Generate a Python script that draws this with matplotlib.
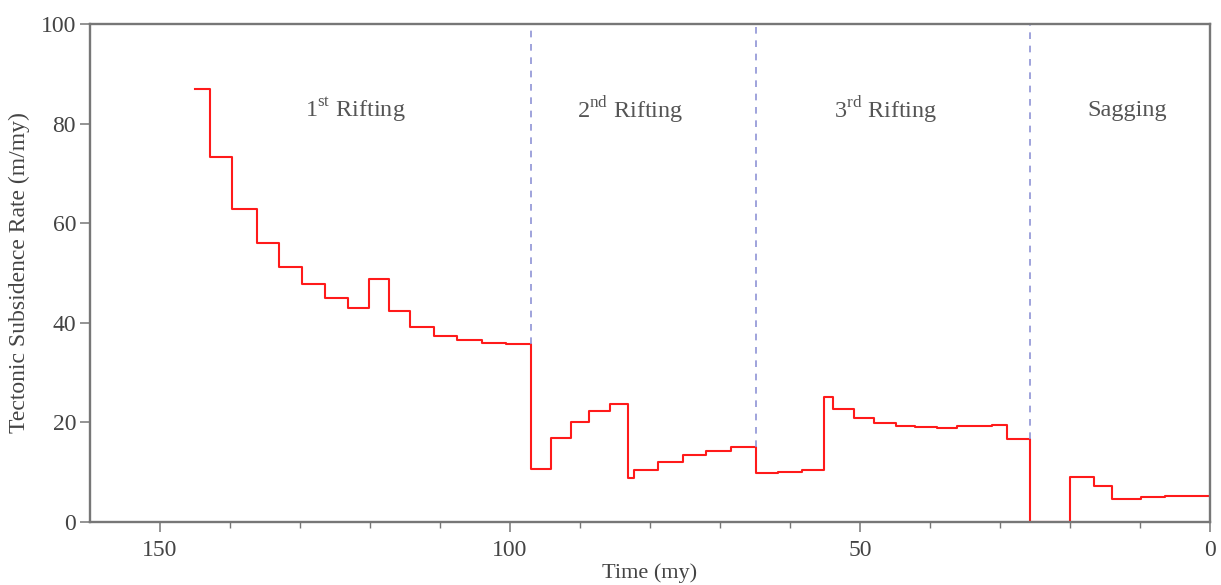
import matplotlib.pyplot as plt

plt.rcParams['font.family'] = ['Liberation Serif', 'DejaVu Serif']
plt.rcParams['mathtext.fontset'] = 'custom'
plt.rcParams['mathtext.rm'] = 'Liberation Serif'

# start time (my) of each step and the subsidence rate (m/my) in that step
t_start = [145.0, 142.9, 139.7, 136.2, 133.0, 129.7, 126.4, 123.2, 120.2, 117.3,
           114.3, 110.9, 107.5, 104.0, 100.5, 97.0, 94.2, 91.3, 88.7, 85.7,
           83.1, 82.3, 78.9, 75.3, 72.0, 68.4, 64.8, 61.7, 58.3, 55.1,
           53.9, 50.8, 48.0, 44.9, 42.2, 39.0, 36.1, 31.2, 29.0, 25.7,
           20.0, 16.6, 14.0, 9.9, 6.5]
rate = [86.9, 73.2, 62.8, 56.1, 51.1, 47.7, 44.9, 42.9, 48.8, 42.4,
        39.2, 37.3, 36.5, 36.0, 35.7, 10.7, 16.9, 20.1, 22.2, 23.6,
        8.9, 10.4, 12.0, 13.4, 14.3, 15.0, 9.8, 10.1, 10.5, 25.0,
        22.6, 20.8, 19.9, 19.3, 19.1, 18.9, 19.2, 19.4, 16.7, 0.0,
        9.0, 7.1, 4.6, 5.0, 5.2]
t_end = 0.0

# stage boundaries and the rate just before each boundary
boundaries = [97.0, 64.8, 25.7]
boundary_rate = [35.7, 15.0, 16.7]

stage_labels = [r'1$^{\mathregular{st}}$ Rifting', r'2$^{\mathregular{nd}}$ Rifting',
                r'3$^{\mathregular{rd}}$ Rifting', 'Sagging']
stage_x = [122.1, 82.9, 46.3, 11.9]

fig = plt.figure(figsize=(12.21, 5.85), dpi=100)
ax = fig.add_axes([0.0737, 0.108, 0.9173, 0.851])

ax.plot(t_start + [t_end], rate + [rate[-1]], drawstyle='steps-post',
        color='#ff1a1a', lw=1.5, zorder=2)

ax.vlines(boundaries, boundary_rate, 100, colors='#8f93d6',
          linestyles=(0, (4, 4)), lw=1.2)

for lab, x in zip(stage_labels, stage_x):
    ax.text(x, 82.7, lab, ha='center', va='center', fontsize=17.5, color='#555555')

ax.set_xlim(160, 0)
ax.set_ylim(0, 100)
ax.set_xticks([150, 100, 50, 0])
ax.set_xticks(range(10, 160, 10), minor=True)
ax.set_yticks([0, 20, 40, 60, 80, 100])

for s in ax.spines.values():
    s.set_color('#777777')
    s.set_linewidth(1.7)
    s.set_zorder(3)
ax.tick_params(axis='both', which='major', length=7, width=1.1, color='#777777',
               labelsize=17, labelcolor='#444444')
ax.tick_params(axis='x', which='minor', length=4, width=1.0, color='#777777')
ax.tick_params(axis='x', pad=6)
ax.tick_params(axis='y', pad=3)

ax.set_xlabel('Time (my)', fontsize=16, color='#444444', labelpad=2)
ax.set_ylabel('Tectonic Subsidence Rate (m/my)', fontsize=17, color='#444444',
              labelpad=8)

fig.savefig('out.png', dpi=100)
